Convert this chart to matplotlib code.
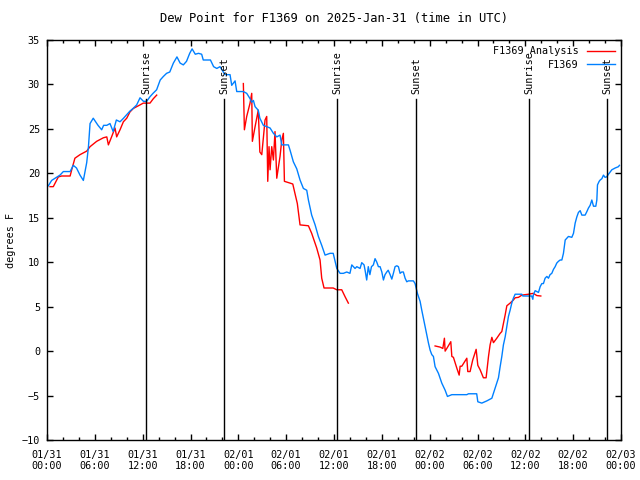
import matplotlib
matplotlib.use('Agg')
import matplotlib.pyplot as plt
import matplotlib.dates as mdates
from matplotlib.ticker import MultipleLocator
import numpy as np
from datetime import datetime, timedelta

plt.rcParams['font.family'] = ['DejaVu Sans Mono']
plt.rcParams['font.size'] = 7.3

# start of the time axis (UTC)
t0 = datetime(2025, 1, 31, 0, 0)

# observed dew point, F1369 (hours after t0, degrees F)
obs_hours = [0.17, 0.58, 1.63, 2.05, 2.9, 3.3, 3.7, 4.14, 4.56, 4.98, 5.2, 5.4, 5.8, 6.4, 6.86, 7.1,
             7.5, 7.9, 8.3, 8.7, 9.16, 9.6, 10.0, 10.4, 10.8, 11.25, 11.67, 12.1, 12.5, 12.9, 13.3,
             13.75, 14.2, 14.6, 15.0, 15.4, 15.85, 16.3, 16.7, 17.1, 17.5, 17.9, 18.2, 18.6, 19.0,
             19.4, 19.6, 20.5, 20.9, 21.3, 21.7, 22.33, 22.96, 23.17, 23.59, 23.8, 24.63, 25.05,
             25.47, 25.68, 25.89, 26.1, 26.5, 26.7, 27.14, 27.56, 27.98, 28.4, 28.82, 29.23, 29.45,
             29.86, 30.28, 30.49, 30.9, 31.33, 31.74, 32.16, 32.58, 32.79, 33.2, 33.63, 34.04,
             34.46, 34.88, 35.5, 35.9, 36.1, 36.35, 36.76, 37.18, 37.6, 38.0, 38.23, 38.64, 38.86,
             39.27, 39.48, 39.77, 39.9, 40.1, 40.3, 40.5, 40.7, 40.94, 41.15, 41.37, 41.57, 41.78,
             42.0, 42.2, 42.4, 42.62, 42.8, 43.04, 43.25, 43.45, 43.66, 43.88, 44.08, 44.29, 44.5,
             44.7, 44.92, 45.13, 45.33, 45.96, 46.17, 46.3, 46.46, 46.8, 47.01, 47.22, 47.43, 47.64,
             47.85, 48.06, 48.27, 48.47, 48.68, 49.1, 49.52, 49.94, 50.23, 50.78, 52.66, 52.87,
             53.9, 54.04, 54.54, 55.17, 55.8, 56.2, 56.63, 56.84, 57.05, 57.25, 57.47, 57.68, 57.88,
             58.09, 58.3, 58.5, 58.72, 59.56, 59.68, 60.8, 60.94, 61.0, 61.23, 61.65, 61.86, 62.07,
             62.27, 62.48, 62.7, 62.9, 63.1, 63.32, 63.53, 63.74, 63.94, 64.15, 64.37, 64.58, 64.78,
             65.0, 65.2, 65.41, 65.83, 66.04, 66.25, 66.46, 66.66, 66.88, 67.09, 67.5, 67.72, 67.92,
             68.13, 68.34, 68.55, 68.84, 68.97, 69.05, 69.26, 69.39, 69.6, 69.8, 70.0, 70.2, 70.43,
             70.85, 71.27, 71.68, 71.8]
obs_dewpt = [18.6, 19.2, 19.8, 20.2, 20.2, 20.9, 20.6, 19.8, 19.2, 21.2, 23.0, 25.6, 26.2, 25.4, 24.9, 25.4,
             25.4, 25.6, 24.7, 26.0, 25.8, 26.2, 26.6, 27.0, 27.3, 27.7, 28.5, 28.1, 28.1, 28.6, 29.0,
             29.4, 30.5, 30.9, 31.25, 31.4, 32.4, 33.1, 32.4, 32.2, 32.6, 33.5, 34.0, 33.4, 33.5,
             33.4, 32.75, 32.75, 32.0, 31.8, 32.0, 31.1, 31.1, 29.9, 30.4, 29.2, 29.2, 29.0,
             28.4, 28.0, 28.2, 27.5, 27.1, 26.2, 25.4, 25.25, 25.1, 24.5, 24.1, 24.3, 23.2,
             23.2, 23.2, 22.6, 21.3, 20.5, 19.25, 18.3, 18.1, 17.0, 15.3, 14.2, 12.9,
             11.9, 10.8, 11.0, 11.0, 10.25, 9.3, 8.75, 8.75, 8.9, 8.75, 9.7, 9.3, 9.5,
             9.3, 9.95, 9.7, 9.1, 8.0, 9.5, 8.6, 9.5, 9.7, 10.4, 10.0, 9.5, 9.5,
             8.9, 8.0, 8.6, 8.9, 9.1, 8.6, 8.1, 8.75, 9.5, 9.6, 9.5, 8.75, 8.9,
             8.9, 8.2, 7.8, 7.9, 7.9, 7.6, 7.1, 6.5, 5.6, 4.6, 3.7, 2.75, 1.8,
             0.9, 0.1, -0.4, -0.6, -1.75, -2.5, -3.6, -4.4, -5.1, -4.9, -4.9, -4.8,
             -4.8, -5.7, -5.85, -5.6, -5.3, -4.2, -3.0, -1.75, -0.6, 0.7, 1.6, 2.75, 3.9,
             4.6, 5.4, 5.95, 6.4, 6.4, 6.2, 6.2, 5.83, 6.3, 6.8, 6.6, 7.25, 7.6,
             7.6, 8.2, 8.4, 8.2, 8.6, 8.75, 9.2, 9.5, 9.9, 10.1, 10.25, 10.25, 11.0,
             12.5, 12.7, 12.9, 12.8, 13.25, 14.4, 15.1, 15.6, 15.8, 15.3, 15.3, 15.7, 16.1,
             16.4, 17.0, 16.3, 16.3, 17.0, 18.7, 19.1, 19.25, 19.4, 19.8, 19.55, 19.6, 19.9,
             20.4, 20.6, 20.75, 20.9]

# analysis dew point (nan = gap in the analysis)
ana_hours = [0.38, 0.79, 1.42, 1.84, 2.9, 3.1, 3.5, 4.14, 4.98, 5.4, 6.23, 7.07, 7.5, 7.7, 8.1, 8.53,
             8.74, 9.16, 9.58, 10.0, 10.4, 10.83, 11.25, 11.67, 12.08, 12.92, 13.34, 13.76, 19.0,
             24.63, 24.76, 25.05, 25.47, 25.68, 25.76, 26.1, 26.5, 26.7, 26.94, 27.14, 27.35, 27.56,
             27.69, 27.85, 27.98, 28.19, 28.4, 28.6, 28.82, 29.23, 29.45, 29.65, 29.78, 30.49, 30.83,
             31.1, 31.4, 31.74, 32.79, 33.2, 33.83, 34.25, 34.46, 34.75, 35.9, 36.35, 36.97, 37.4,
             37.8, 43.0,
             48.68, 49.31, 49.65, 49.85, 49.94, 50.15, 50.65, 50.78, 50.98, 51.4, 51.7, 51.82, 52.03,
             52.66, 52.78, 53.07, 53.4, 53.83, 54.04, 54.33, 54.74, 55.08, 55.38, 55.58, 55.8, 56.0,
             56.42, 56.84, 57.05, 57.25, 57.47, 57.68, 58.09, 58.5, 58.72, 59.14, 59.56, 60.4, 61.0,
             61.44, 61.94]
ana_dewpt = [18.5, 18.5, 19.6, 19.7, 19.7, 20.4, 21.7, 22.1, 22.5, 23.0, 23.6, 24.0, 24.1, 23.2, 24.1, 25.1,
             24.1, 24.9, 25.8, 26.2, 26.9, 27.3, 27.5, 27.7, 27.9, 27.9, 28.4, 28.8, np.nan,
             30.1, 24.9, 26.4, 27.9, 29.0, 23.6, 25.25, 27.1, 22.4, 22.1, 24.0, 26.0, 26.4,
             19.1, 23.0, 20.4, 23.0, 21.5, 24.7, 19.45, 21.9, 23.75, 24.5, 19.1, 18.9, 18.8,
             17.75, 16.6, 14.2, 14.1, 13.25, 11.6, 10.25, 8.2, 7.1, 7.1, 6.9, 6.9, 6.1,
             5.4, np.nan,
             0.58, 0.45, 0.3, 1.45, 0.0, 0.3, 1.06, -0.6, -0.7, -1.9, -2.7, -1.7, -1.7,
             -0.8, -2.3, -2.3, -1.0, 0.2, -1.6, -2.1, -3.0, -3.0, -0.6, 0.7, 1.55, 0.95,
             1.45, 2.0, 2.2, 3.1, 4.07, 5.1, 5.4, 5.75, 6.0, 6.05, 6.3, 6.4, 6.5,
             6.25, 6.2]

# sunrise / sunset (hours after t0)
sun_hours = [12.43, 22.2, 36.43, 46.3, 60.5, 70.3]
sun_labels = ['Sunrise', 'Sunset', 'Sunrise', 'Sunset', 'Sunrise', 'Sunset']

obs_t = [t0 + timedelta(hours=h) for h in obs_hours]
ana_t = [t0 + timedelta(hours=h) for h in ana_hours]
sun_t = [t0 + timedelta(hours=h) for h in sun_hours]

fig = plt.figure(figsize=(6.4, 4.8), dpi=100)
ax = fig.add_axes([47 / 640, 40 / 480, 574 / 640, 400 / 480])

ax.plot(ana_t, ana_dewpt, color='#ff0000', lw=1.0, label='F1369 Analysis')
ax.plot(obs_t, obs_dewpt, color='#0080ff', lw=1.0, label='F1369')

for t, lab in zip(sun_t, sun_labels):
    ax.axvline(t, ymin=0, ymax=0.852, color='black', lw=1.0)
    ax.text(t, 0.866, lab, transform=ax.get_xaxis_transform(), rotation=90,
            ha='center', va='bottom')

ax.set_xlim(t0, t0 + timedelta(hours=72))
ax.set_ylim(-10, 35)
ax.yaxis.set_major_locator(MultipleLocator(5))
ax.xaxis.set_major_locator(mdates.HourLocator(byhour=[0, 6, 12, 18]))
ax.xaxis.set_minor_locator(mdates.HourLocator(interval=2))
ax.xaxis.set_major_formatter(mdates.DateFormatter('%m/%d\n%H:%M'))

ax.tick_params(which='both', direction='in', top=True, right=True, width=1)
ax.tick_params(which='major', length=4)
ax.tick_params(which='minor', length=2)
ax.tick_params(axis='y', which='major', pad=5)
ax.tick_params(axis='x', which='major', pad=7)
for s in ax.spines.values():
    s.set_linewidth(1)

ax.set_title('Dew Point for F1369 on 2025-Jan-31 (time in UTC)', pad=13)
ax.set_ylabel('degrees F', labelpad=4)

ax.legend(loc='upper right', frameon=False, markerfirst=False, handlelength=2.8,
          handletextpad=0.8, labelspacing=0.35, borderaxespad=0.2)

fig.savefig('out.png', dpi=100)
